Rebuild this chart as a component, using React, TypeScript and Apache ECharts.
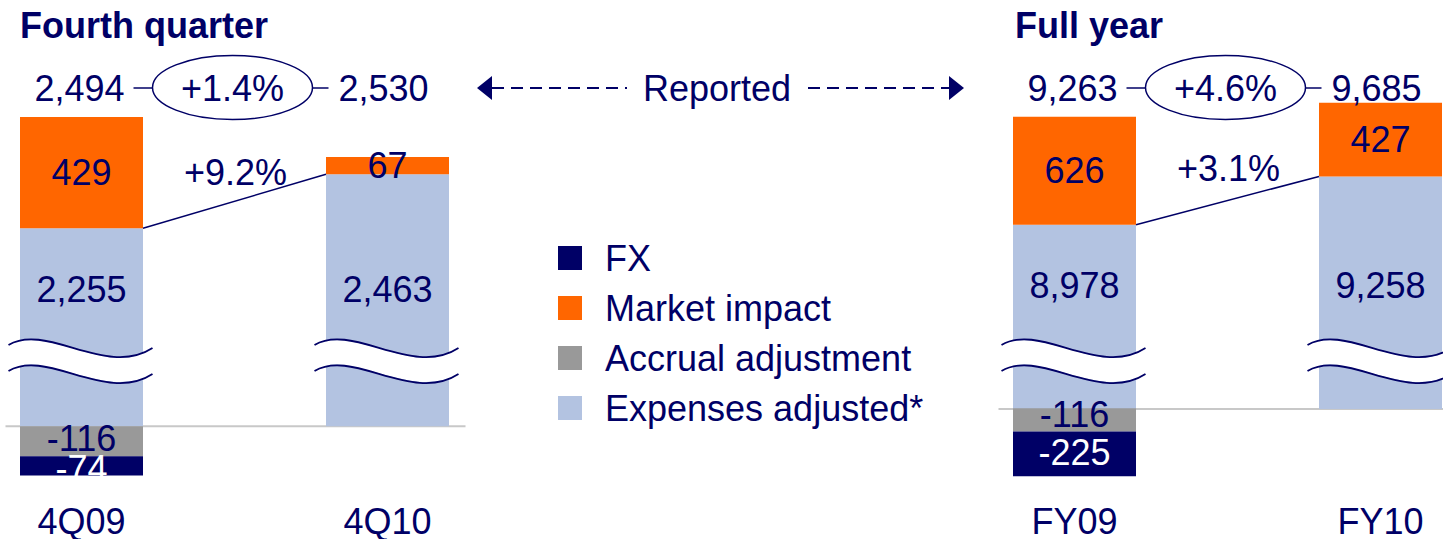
import React, { useEffect, useRef } from "react";
import * as echarts from "echarts";

const categoriesQ = ["4Q09", "4Q10"];
const categoriesFY = ["FY09", "FY10"];
const expensesQ = [2255, 2463];
const marketQ = [429, 67];
const accrualQ = [-116, null];
const fxQ = [-74, null];
const expensesFY = [8978, 9258];
const marketFY = [626, 427];
const accrualFY = [-116, null];
const fxFY = [-225, null];
const reportedQ = [2494, 2530];
const reportedFY = [9263, 9685];
const reportedChange = ["+1.4%", "+4.6%"];
const adjustedChange = ["+9.2%", "+3.1%"];
const panelTitles = ["Fourth quarter", "Full year"];
const breakCut = [1492, 7910]; // value removed by the axis break

const NAVY = "#000066";
const ORANGE = "#FF6600";
const GRAY = "#999999";
const LIGHT = "#B3C3E1";
const FONT = "'Liberation Sans', Arial, sans-serif";

const fmt = (v: number | null) => (v == null ? "" : v.toLocaleString("en-US"));

export default function App() {
  const ref = useRef<HTMLDivElement>(null);
  useEffect(() => {
    document.body.style.margin = "0";
    const chart = echarts.init(ref.current!, null, { renderer: "svg" });
    const panels = [
      { cats: categoriesQ, exp: expensesQ, mkt: marketQ, acc: accrualQ, fx: fxQ, cut: breakCut[0], dist: 119 },
      { cats: categoriesFY, exp: expensesFY, mkt: marketFY, acc: accrualFY, fx: fxFY, cut: breakCut[1], dist: 105 },
    ];
    const series: any[] = [];
    panels.forEach((p, g) => {
      const common = { type: "bar", xAxisIndex: g, barWidth: 123, barGap: "-100%", clip: false };
      const lbl = { show: true, fontSize: 36, fontFamily: FONT, color: NAVY };
      series.push({
        ...common,
        name: "Expenses adjusted*",
        yAxisIndex: 2 * g,
        stack: "pos" + g,
        data: p.exp.map((v) => v - p.cut),
        itemStyle: { color: LIGHT },
        label: { ...lbl, position: "insideBottom", distance: p.dist, formatter: (d: any) => fmt(p.exp[d.dataIndex]) },
      });
      series.push({
        ...common,
        name: "Market impact",
        yAxisIndex: 2 * g,
        stack: "pos" + g,
        data: p.mkt,
        itemStyle: { color: ORANGE },
        label: { ...lbl, position: "inside", formatter: (d: any) => fmt(d.value) },
      });
      series.push({
        ...common,
        name: "Accrual adjustment",
        yAxisIndex: 2 * g + 1,
        stack: "neg" + g,
        data: p.acc,
        itemStyle: { color: GRAY },
        label: { ...lbl, position: "inside", offset: [0, g === 1 ? -5 : -3], formatter: (d: any) => fmt(d.value) },
      });
      series.push({
        ...common,
        name: "FX",
        yAxisIndex: 2 * g + 1,
        stack: "neg" + g,
        data: p.fx,
        itemStyle: { color: NAVY },
        label: { ...lbl, color: "#ffffff", position: "inside", offset: [0, g === 0 ? 3 : -1], formatter: (d: any) => fmt(d.value) },
      });
    });

    const xAxisCommon = {
      type: "category",
      boundaryGap: false,
      axisLine: { show: false, onZero: false },
      axisTick: { show: false },
      splitLine: { show: false },
      axisLabel: { color: NAVY, fontSize: 36, fontFamily: FONT, margin: 25, interval: 0 },
    };

    chart.setOption({
      animation: false,
      textStyle: { fontFamily: FONT },
      grid: [
        { left: 81.5, width: 306, top: 89, height: 390 },
        { left: 1074.5, width: 306, top: 95, height: 385 },
      ],
      xAxis: [
        { ...xAxisCommon, gridIndex: 0, data: categoriesQ },
        { ...xAxisCommon, gridIndex: 1, data: categoriesFY },
      ],
      yAxis: [
        { type: "value", gridIndex: 0, min: -200, max: 1300, show: false },
        { type: "value", gridIndex: 0, min: -200, max: 1300, show: false },
        { type: "value", gridIndex: 1, min: -400, max: 1820, show: false },
        { type: "value", gridIndex: 1, min: -350, max: 1575, show: false },
      ],
      legend: {
        data: ["FX", "Market impact", "Accrual adjustment", "Expenses adjusted*"],
        orient: "vertical",
        left: 558,
        top: 240,
        padding: 0,
        itemWidth: 24,
        itemHeight: 24,
        itemGap: 14,
        icon: "rect",
        selectedMode: false,
        textStyle: { color: NAVY, fontSize: 36, fontFamily: FONT, padding: [0, 0, 0, 18] },
      },
      series,
    });

    const elements: any[] = [];
    const textEl = (x: number, y: number, text: string, extra: any = {}) => ({
      type: "text",
      x,
      y,
      z: 120,
      style: { text, fill: NAVY, fontSize: 36, fontFamily: FONT, align: "center", verticalAlign: "middle", ...extra },
    });

    panels.forEach((p, g) => {
      const sIdx = 4 * g;
      const c0 = chart.convertToPixel({ seriesIndex: sIdx }, [0, 0]) as number[];
      const c1 = chart.convertToPixel({ seriesIndex: sIdx }, [1, 0]) as number[];
      const top0 = chart.convertToPixel({ seriesIndex: sIdx }, [0, p.exp[0] - p.cut]) as number[];
      const top1 = chart.convertToPixel({ seriesIndex: sIdx }, [1, p.exp[1] - p.cut]) as number[];
      const half = 61.5;
      // baseline
      elements.push({
        type: "line",
        z: 0,
        shape: { x1: c0[0] - 76, y1: c0[1], x2: c1[0] + 78, y2: c0[1] },
        style: { stroke: "#C8C8C8", lineWidth: 2 },
      });
      // adjusted growth connector
      elements.push({
        type: "line",
        z: 110,
        shape: { x1: top0[0] + half, y1: top0[1], x2: top1[0] - half, y2: top1[1] },
        style: { stroke: NAVY, lineWidth: 1.5 },
      });
      const mid = (c0[0] + c1[0]) / 2;
      elements.push(textEl(mid + 1, g === 0 ? 172 : 168, adjustedChange[g]));
      // reported totals & ellipse
      const reported = g === 0 ? reportedQ : reportedFY;
      const cx = mid - 2;
      const rx = 80;
      elements.push({
        type: "ellipse",
        z: 110,
        shape: { cx, cy: 87.5, rx, ry: 32 },
        style: { fill: "none", stroke: NAVY, lineWidth: 1.5 },
      });
      elements.push({ type: "line", z: 110, shape: { x1: cx - rx - 19, y1: 88, x2: cx - rx, y2: 88 }, style: { stroke: NAVY, lineWidth: 1.5 } });
      elements.push({ type: "line", z: 110, shape: { x1: cx + rx, y1: 88, x2: cx + rx + 16, y2: 88 }, style: { stroke: NAVY, lineWidth: 1.5 } });
      elements.push(textEl(cx, 88, reportedChange[g]));
      elements.push(textEl(c0[0] - 2, 88, fmt(reported[0])));
      elements.push(textEl(c1[0] - 4, 88, fmt(reported[1])));
      // title
      elements.push(textEl(g === 0 ? 20 : 1015, 25, panelTitles[g], { align: "left", fontWeight: "bold" }));
      // break symbols
      [c0[0], c1[0]].forEach((x) => {
        const curve = (dy: number) => ({
          x1: x - 73, y1: 345 + dy,
          cpx1: x - 35, cpy1: 322 + dy,
          cpx2: x + 25, cpy2: 378 + dy,
          x2: x + 71, y2: 348 + dy,
        });
        elements.push({ type: "bezierCurve", z: 100, shape: curve(13), style: { stroke: "#ffffff", lineWidth: 24, fill: "none" } });
        elements.push({ type: "bezierCurve", z: 101, shape: curve(0), style: { stroke: NAVY, lineWidth: 1.8, fill: "none" } });
        elements.push({ type: "bezierCurve", z: 101, shape: curve(26), style: { stroke: NAVY, lineWidth: 1.8, fill: "none" } });
      });
    });

    // Reported arrow
    elements.push({ type: "polygon", z: 110, shape: { points: [[477, 88], [492, 76], [492, 100]] }, style: { fill: NAVY } });
    elements.push({ type: "polygon", z: 110, shape: { points: [[964, 88], [949, 76], [949, 100]] }, style: { fill: NAVY } });
    elements.push({ type: "line", z: 110, shape: { x1: 492, y1: 88, x2: 627, y2: 88 }, style: { stroke: NAVY, lineWidth: 2, lineDash: [12, 7] } });
    elements.push({ type: "line", z: 110, shape: { x1: 808, y1: 88, x2: 949, y2: 88 }, style: { stroke: NAVY, lineWidth: 2, lineDash: [12, 7] } });
    elements.push(textEl(717, 88, "Reported"));

    chart.setOption({ graphic: { elements } });
    return () => chart.dispose();
  }, []);
  return <div ref={ref} style={{ width: 1443, height: 539 }} />;
}
